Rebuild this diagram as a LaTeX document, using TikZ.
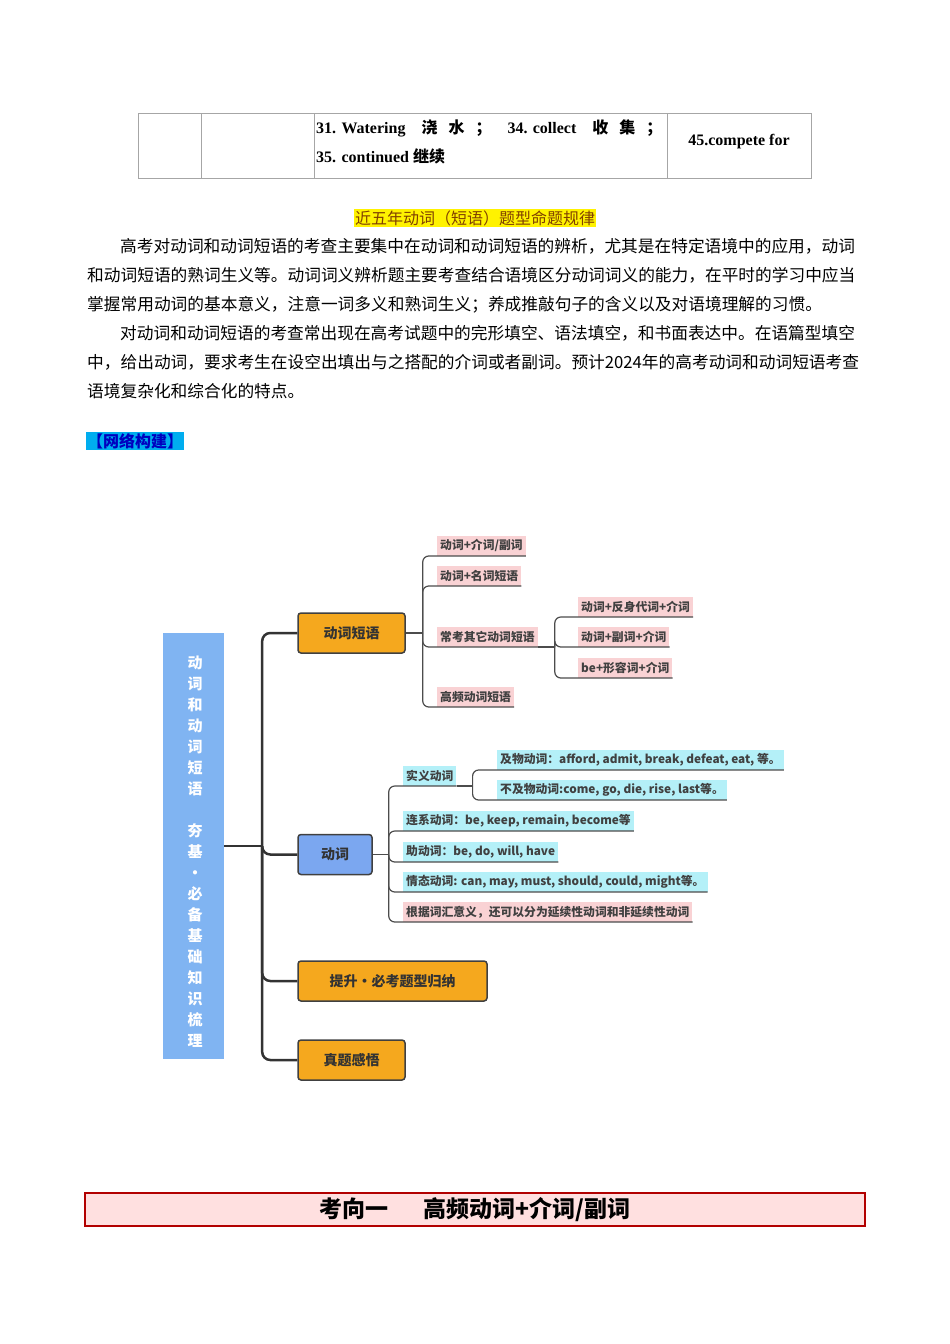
\documentclass[tikz,border=0pt]{standalone}
\usepackage{fontspec}
\setmainfont{Liberation Serif}
\newfontfamily\cjk{Noto Sans CJK SC}
\definecolor{vblue}{HTML}{7BA7F0}
\definecolor{rblue}{HTML}{80B4F2}
\definecolor{morange}{HTML}{F5A81E}
\definecolor{ipink}{HTML}{F9D2D4}
\definecolor{icyan}{HTML}{B4F0F8}
\begin{document}
\begin{tikzpicture}[x=1pt,y=-1pt,
  cell/.style={draw=gray!70,line width=0.8pt},
  body/.style={anchor=base west,inner sep=0,font=\cjk\fontsize{16.7}{18}\selectfont},
  mainbox/.style={draw=black!75,line width=1.5pt,rounded corners=3pt,minimum height=40pt,font=\cjk\bfseries\fontsize{14}{16}\selectfont,text=black!80},
  pk/.style={fill=ipink,anchor=south west,inner sep=3pt,minimum height=20pt,font=\cjk\bfseries\fontsize{11.8}{13}\selectfont,text=black!75},
  cy/.style={fill=icyan,anchor=south west,inner sep=3pt,minimum height=20pt,font=\cjk\bfseries\fontsize{11.8}{13}\selectfont,text=black!75},
  br/.style={draw=black!70,line width=1.2pt,rounded corners=6pt},
  trunk/.style={draw=black!80,line width=2.5pt,rounded corners=8pt}]
\useasboundingbox (0,0) rectangle (950,1344);
% table
\draw[cell] (138,113) rectangle (811,178);
\draw[cell] (201,113) -- (201,178) (314,113) -- (314,178) (667,113) -- (667,178);
\node[anchor=base west,inner sep=0,font=\bfseries\fontsize{16}{18}\selectfont] (t1) at (316,133) {31. Watering\quad{\cjk 浇\ \ \ 水\ \ \ ；}\quad 34. collect\quad{\cjk 收\ \ \ 集\ \ \ ；}};
\node[anchor=base west,inner sep=0,font=\bfseries\fontsize{16}{18}\selectfont] (t2) at (316,162) {35. continued {\cjk 继续}};
\node[font=\bfseries\fontsize{16}{18}\selectfont] (t3) at (739,142) {45.compete for};
% heading
\node[fill=yellow,inner sep=1pt,text=orange!50!black,font=\cjk\fontsize{16}{18}\selectfont] (h) at (475,218) {近五年动词（短语）题型命题规律};
\node[body] (p1) at (120,252) {高考对动词和动词短语的考查主要集中在动词和动词短语的辨析，尤其是在特定语境中的应用，动词};
\node[body] (p2) at (87,281) {和动词短语的熟词生义等。动词词义辨析题主要考查结合语境区分动词词义的能力，在平时的学习中应当};
\node[body] (p3) at (87,310) {掌握常用动词的基本意义，注意一词多义和熟词生义；养成推敲句子的含义以及对语境理解的习惯。};
\node[body] (p4) at (120,339) {对动词和动词短语的考查常出现在高考试题中的完形填空、语法填空，和书面表达中。在语篇型填空};
\node[body] (p5) at (87,368) {中，给出动词，要求考生在设空出填出与之搭配的介词或者副词。预计2024年的高考动词和动词短语考查};
\node[body] (p6) at (87,397) {语境复杂化和综合化的特点。};
\node[fill=cyan,inner sep=1pt,anchor=west,text=blue!75!black,font=\cjk\bfseries\fontsize{16}{18}\selectfont] (wl) at (86,441) {【网络构建】};
% mind map
\node[fill=rblue,minimum width=61pt,minimum height=426pt,inner sep=0] (root) at (193.5,846) {};
\node[text=white,font=\cjk\bfseries\fontsize{15}{21}\selectfont,align=center,inner sep=0] (rt) at (195,852) {动\\词\\和\\动\\词\\短\\语\\[21pt]夯\\基\\•\\必\\备\\基\\础\\知\\识\\梳\\理};
\node[mainbox,fill=morange,minimum width=107pt] (m1) at (351.5,633) {动词短语};
\node[mainbox,fill=vblue,minimum width=74pt] (m2) at (335,854.5) {动词};
\node[mainbox,fill=morange,minimum width=189pt] (m3) at (392.5,981) {提升・必考题型归纳};
\node[mainbox,fill=morange,minimum width=107pt] (m4) at (351.5,1060) {真题感悟};
\draw[trunk] (root.east) -- ++(38,0) coordinate (tj);
\draw[trunk] (tj) |- (m1.west);
\draw[trunk] (tj) |- (m2.west);
\draw[trunk] (tj) |- (m3.west);
\draw[trunk] (tj) |- (m4.west);
% sub of m1
\node[pk] (a1) at (437,556) {动词+介词/副词};
\node[pk] (a2) at (437,586) {动词+名词短语};
\node[pk] (a3) at (437,647) {常考其它动词短语};
\node[pk] (a4) at (437,707) {高频动词短语};
\node[pk] (b1) at (578,617) {动词+反身代词+介词};
\node[pk] (b2) at (578,647) {动词+副词+介词};
\node[pk] (b3) at (578,678) {be+形容词+介词};
\draw[br] (m1.east) -- ++(17,0) coordinate (j1);
\foreach \n in {a1,a2,a3,a4} \draw[br] (j1) |- (\n.south east);
\path (a3.south east) ++(17,0) coordinate (j2);
\draw[br] (a3.south east) -- (j2);
\foreach \n in {b1,b2,b3} \draw[br] (j2) |- (\n.south east);
% sub of m2
\node[cy] (c1) at (403,786) {实义动词};
\node[cy] (c2) at (403,831) {连系动词：be, keep, remain, become等};
\node[cy] (c3) at (403,862) {助动词：be, do, will, have};
\node[cy] (c4) at (403,892) {情态动词: can, may, must, should,\ could, might等。};
\node[pk] (c5) at (403,922) {根据词汇意义，还可以分为延续性动词和非延续性动词};
\node[cy] (d1) at (497,770) {及物动词：afford, admit, break, defeat, eat, 等。};
\node[cy] (d2) at (497,800) {不及物动词:come, go, die, rise, last等。};
\draw[br] (m2.east) -- ++(16,0) coordinate (j3);
\foreach \n in {c1,c2,c3,c4,c5} \draw[br] (j3) |- (\n.south east);
\path (c1.south east) ++(16,0) coordinate (j4);
\draw[br] (c1.south east) -- (j4);
\foreach \n in {d1,d2} \draw[br] (j4) |- (\n.south east);
% bottom banner
\node[draw=red!70!black,fill=red!12,line width=1.2pt,minimum width=780pt,minimum height=33pt,inner sep=0,font=\cjk\bfseries\fontsize{23}{26}\selectfont] (bn) at (475,1209.5) {考向一\hspace{1.5em}高频动词+介词/副词};
\end{tikzpicture}
\end{document}
